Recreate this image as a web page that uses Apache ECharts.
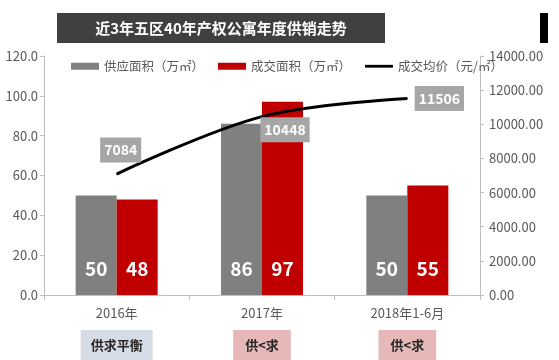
<!DOCTYPE html>
<html><head><meta charset="utf-8">
<script src="https://cdn.jsdelivr.net/npm/echarts@6/dist/echarts.min.js"></script>
<style>html,body{margin:0;padding:0;background:#fff}#c{width:559px;height:360px}</style>
</head><body><div id="c"></div>
<script>
const categories = ['2016年', '2017年', '2018年1-6月'];
const supplyArea = [50, 86, 50];
const dealArea = [48, 97, 55];
const avgPrice = [7084, 10448, 11506];
const notes = ['供求平衡', '供<求', '供<求'];
const noteStyles = ['a', 'b', 'b'];
const titleText = '近3年五区40年产权公寓年度供销走势';
const seriesNames = ['供应面积（万㎡）', '成交面积（万㎡）', '成交均价（元/㎡）'];

const FONT = '"Noto Sans CJK SC", "Noto Sans", sans-serif';
const chart = echarts.init(document.getElementById('c'), null, {renderer: 'canvas'});
const priceLabelOffsets = [[4, -24], [23, 13], [32, 0]];

chart.setOption({
  animation: false,
  textStyle: {fontFamily: FONT},
  graphic: [
    {type: 'rect', shape: {x: 57, y: 13, width: 328, height: 30}, style: {fill: '#404040'}},
    {type: 'text', x: 221, y: 28, style: {text: titleText, fill: '#fff', font: 'bold 15px ' + FONT, align: 'center', verticalAlign: 'middle'}},
    {type: 'rect', shape: {x: 540, y: 13, width: 8, height: 30}, style: {fill: '#000'}}
  ],
  legend: {
    top: 55, left: 66, itemGap: 14, itemWidth: 28, itemHeight: 7,
    textStyle: {fontSize: 12.5, color: '#595959', fontFamily: FONT},
    data: [
      {name: seriesNames[0], icon: 'rect'},
      {name: seriesNames[1], icon: 'rect'},
      {name: seriesNames[2], icon: 'path://M0,0 L30,0 L30,3 L0,3 Z', itemStyle: {color: '#000'}}
    ]
  },
  grid: {left: 44, right: 79, top: 56, bottom: 64},
  xAxis: [
    {
      type: 'category', data: categories,
      axisLine: {lineStyle: {color: '#bfbfbf'}},
      axisTick: {show: true, length: 5, lineStyle: {color: '#bfbfbf'}},
      axisLabel: {color: '#595959', fontSize: 13, margin: 12, fontFamily: FONT}
    },
    {
      type: 'category', data: categories, position: 'bottom', offset: 35,
      axisLine: {show: false}, axisTick: {show: false},
      axisLabel: {
        margin: 0,
        formatter: function (v, i) { return '{' + noteStyles[i] + '|' + notes[i] + '}'; },
        rich: {
          a: {backgroundColor: '#d6dce5', color: '#262626', fontWeight: 'bold', fontSize: 13, padding: [9, 10, 8, 10], fontFamily: FONT},
          b: {backgroundColor: '#e6b9b8', color: '#262626', fontWeight: 'bold', fontSize: 13, padding: [9, 12, 8, 12], fontFamily: FONT}
        }
      }
    }
  ],
  yAxis: [
    {
      type: 'value', min: 0, max: 120, interval: 20,
      axisLine: {show: true, lineStyle: {color: '#bfbfbf'}},
      axisTick: {show: true, length: 4, lineStyle: {color: '#bfbfbf'}},
      splitLine: {show: false},
      axisLabel: {color: '#595959', fontSize: 13, margin: 6, formatter: v => v.toFixed(1)}
    },
    {
      type: 'value', min: 0, max: 14000, interval: 2000, position: 'right',
      axisLine: {show: true, lineStyle: {color: '#bfbfbf'}},
      axisTick: {show: true, length: 4, lineStyle: {color: '#bfbfbf'}},
      splitLine: {show: false},
      axisLabel: {color: '#595959', fontSize: 13, margin: 9, formatter: v => v.toFixed(2)}
    }
  ],
  series: [
    {
      name: seriesNames[0], type: 'bar', data: supplyArea, barWidth: 41, barGap: '0%',
      itemStyle: {color: '#808080'},
      label: {show: true, position: 'insideBottom', distance: 17, color: '#fff', fontSize: 19, fontWeight: 'bold', fontFamily: FONT}
    },
    {
      name: seriesNames[1], type: 'bar', data: dealArea, barWidth: 41,
      itemStyle: {color: '#c00000'},
      label: {show: true, position: 'insideBottom', distance: 17, color: '#fff', fontSize: 19, fontWeight: 'bold', fontFamily: FONT}
    },
    {
      name: seriesNames[2], type: 'line', yAxisIndex: 1, smooth: 0.35,
      showSymbol: true, symbol: 'circle', symbolSize: 1,
      lineStyle: {color: '#000', width: 3}, itemStyle: {color: '#000'},
      z: 5,
      data: avgPrice.map((v, i) => ({
        value: v,
        label: {
          show: true, position: 'inside', offset: priceLabelOffsets[i],
          backgroundColor: '#a6a6a6', color: '#fff', fontWeight: 'bold', fontSize: 14,
          padding: [6, 4, 5, 4], fontFamily: FONT
        }
      }))
    }
  ]
});
</script></body></html>
